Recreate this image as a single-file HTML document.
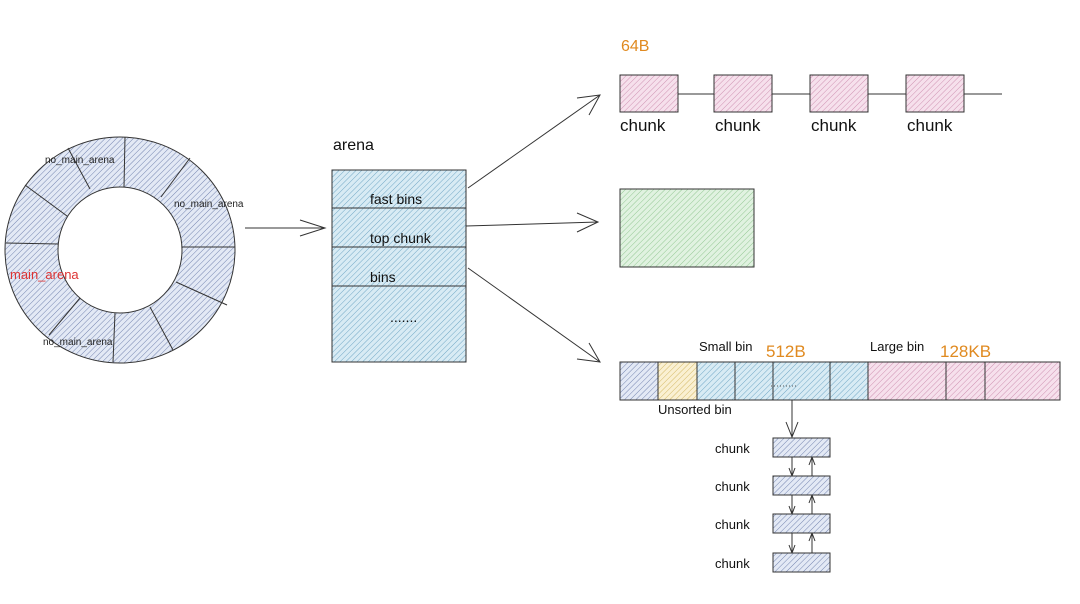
<!DOCTYPE html>
<html><head><meta charset="utf-8"><style>body{margin:0;background:#fff}svg{display:block}text{font-family:"Liberation Sans",sans-serif}</style></head><body>
<svg width="1080" height="604" viewBox="0 0 1080 604" xmlns="http://www.w3.org/2000/svg">
<defs>
<pattern id="hb" width="4" height="4" patternUnits="userSpaceOnUse" patternTransform="rotate(45)"><rect width="4" height="4" fill="#e3e9f5"/><line x1="0" y1="0" x2="0" y2="4" stroke="#7585b0" stroke-width="1"/></pattern>
<pattern id="hc" width="4" height="4" patternUnits="userSpaceOnUse" patternTransform="rotate(45)"><rect width="4" height="4" fill="#d8ebf4"/><line x1="0" y1="0" x2="0" y2="4" stroke="#72a8c6" stroke-width="1"/></pattern>
<pattern id="hp" width="4" height="4" patternUnits="userSpaceOnUse" patternTransform="rotate(45)"><rect width="4" height="4" fill="#f6e0ec"/><line x1="0" y1="0" x2="0" y2="4" stroke="#cf92b2" stroke-width="1"/></pattern>
<pattern id="hg" width="4" height="4" patternUnits="userSpaceOnUse" patternTransform="rotate(45)"><rect width="4" height="4" fill="#e0f2e0"/><line x1="0" y1="0" x2="0" y2="4" stroke="#94c894" stroke-width="1"/></pattern>
<pattern id="hy" width="4" height="4" patternUnits="userSpaceOnUse" patternTransform="rotate(45)"><rect width="4" height="4" fill="#faf0d2"/><line x1="0" y1="0" x2="0" y2="4" stroke="#d4b966" stroke-width="1"/></pattern>
</defs>
<g stroke="#333" stroke-width="1" fill="none">
<path d="M235,250 A115,113 0 1,0 5,250 A115,113 0 1,0 235,250 Z M182,250 A62,63 0 1,1 58,250 A62,63 0 1,1 182,250 Z" fill="url(#hb)" fill-rule="evenodd"/>
<line x1="125" y1="137" x2="124" y2="187"/>
<line x1="190" y1="158" x2="161" y2="197"/>
<line x1="182" y1="247" x2="235" y2="247"/>
<line x1="176" y1="282" x2="227" y2="305"/>
<line x1="150" y1="307" x2="173" y2="350"/>
<line x1="115" y1="313" x2="113" y2="362"/>
<line x1="80" y1="298" x2="49" y2="335"/>
<line x1="58" y1="244" x2="6" y2="243"/>
<line x1="67" y1="216" x2="25" y2="185"/>
<line x1="90" y1="189" x2="68" y2="148"/>
</g>
<text x="45" y="163" font-size="10" fill="#222">no_main_arena</text>
<text x="174" y="207" font-size="10" fill="#222">no_main_arena</text>
<text x="10" y="279" font-size="13" fill="#d33">main_arena</text>
<text x="43" y="345" font-size="10" fill="#222">no_main_arena</text>
<g stroke="#333" stroke-width="1" fill="none">
<line x1="245" y1="228" x2="325" y2="228"/><polyline points="300,220 325,228 300,236"/>
</g>
<text x="333" y="150" font-size="16" fill="#111">arena</text>
<rect x="332" y="170" width="134" height="192" fill="url(#hc)" stroke="#333"/>
<g stroke="#333"><line x1="332" y1="208" x2="466" y2="208"/><line x1="332" y1="247" x2="466" y2="247"/><line x1="332" y1="286" x2="466" y2="286"/></g>
<g font-size="14" fill="#111"><text x="370" y="204">fast bins</text><text x="370" y="243">top chunk</text><text x="370" y="282">bins</text><text x="390" y="322">.......</text></g>
<g stroke="#333" stroke-width="1" fill="none">
<line x1="468" y1="188" x2="600" y2="95"/><polyline points="577,98 600,95 589,115"/>
<line x1="466" y1="226" x2="598" y2="222"/><polyline points="577,213 598,222 577,232"/>
<line x1="468" y1="268" x2="600" y2="362"/><polyline points="589,343 600,362 577,359"/>
</g>
<text x="621" y="51" font-size="16" fill="#e08a20">64B</text>
<line x1="678" y1="94" x2="1002" y2="94" stroke="#333"/>
<g fill="url(#hp)" stroke="#333">
<rect x="620" y="75" width="58" height="37"/><rect x="714" y="75" width="58" height="37"/><rect x="810" y="75" width="58" height="37"/><rect x="906" y="75" width="58" height="37"/>
</g>
<g font-size="17" fill="#111"><text x="620" y="131">chunk</text><text x="715" y="131">chunk</text><text x="811" y="131">chunk</text><text x="907" y="131">chunk</text></g>
<rect x="620" y="189" width="134" height="78" fill="url(#hg)" stroke="#333"/>
<text x="699" y="351" font-size="13" fill="#111">Small bin</text>
<text x="766" y="357" font-size="17" fill="#e08a20">512B</text>
<text x="870" y="351" font-size="13" fill="#111">Large bin</text>
<text x="940" y="357" font-size="17" fill="#e08a20">128KB</text>
<rect x="620" y="362" width="38" height="38" fill="url(#hb)" stroke="#333"/>
<rect x="658" y="362" width="39" height="38" fill="url(#hy)" stroke="#333"/>
<rect x="697" y="362" width="171" height="38" fill="url(#hc)" stroke="#333"/>
<rect x="868" y="362" width="192" height="38" fill="url(#hp)" stroke="#333"/>
<g stroke="#333"><line x1="735" y1="362" x2="735" y2="400"/><line x1="773" y1="362" x2="773" y2="400"/><line x1="830" y1="362" x2="830" y2="400"/><line x1="946" y1="362" x2="946" y2="400"/><line x1="985" y1="362" x2="985" y2="400"/></g>
<line x1="771" y1="386" x2="797" y2="386" stroke="#555" stroke-dasharray="1,2"/>
<text x="658" y="414" font-size="13" fill="#111">Unsorted bin</text>
<g stroke="#333" fill="none">
<line x1="792" y1="400" x2="792" y2="437"/><polyline points="786,422 792,437 798,422"/>
<line x1="792" y1="457" x2="792" y2="476"/><polyline points="789,468 792,476 795,468"/>
<line x1="812" y1="476" x2="812" y2="457"/><polyline points="809,465 812,457 815,465"/>
<line x1="792" y1="495" x2="792" y2="514"/><polyline points="789,506 792,514 795,506"/>
<line x1="812" y1="514" x2="812" y2="495"/><polyline points="809,503 812,495 815,503"/>
<line x1="792" y1="533" x2="792" y2="553"/><polyline points="789,545 792,553 795,545"/>
<line x1="812" y1="553" x2="812" y2="533"/><polyline points="809,541 812,533 815,541"/>
</g>
<g fill="url(#hb)" stroke="#333">
<rect x="773" y="438" width="57" height="19"/><rect x="773" y="476" width="57" height="19"/><rect x="773" y="514" width="57" height="19"/><rect x="773" y="553" width="57" height="19"/>
</g>
<g font-size="13" fill="#111"><text x="715" y="453">chunk</text><text x="715" y="491">chunk</text><text x="715" y="529">chunk</text><text x="715" y="568">chunk</text></g>
</svg>
</body></html>
